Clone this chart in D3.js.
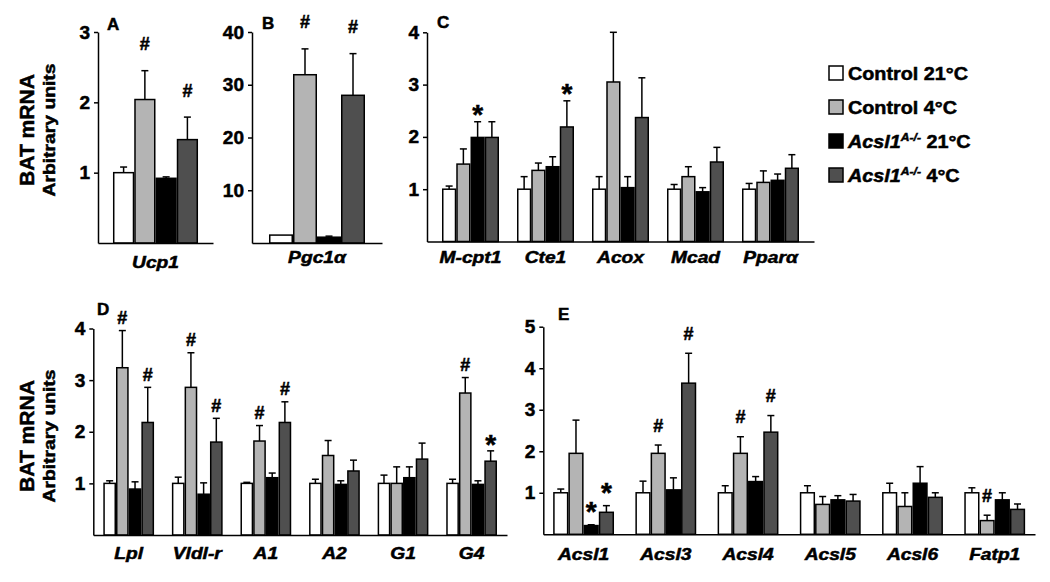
<!DOCTYPE html>
<html><head><meta charset="utf-8">
<script src="https://cdn.jsdelivr.net/npm/d3@7"></script>
<style>
body{margin:0;background:#fff}
svg text{font-family:"Liberation Sans",Arial,sans-serif;font-weight:bold;fill:#000;stroke:#000;stroke-width:0.5}
</style>
</head><body><svg id="c" width="1050" height="582"></svg>
<script>
// ---- series (legend) ----
const seriesGenotype = ["Control", "Control", "Acsl1", "Acsl1"];
const seriesSup = ["", "", "A-/-", "A-/-"];
const seriesTemp = ["21°C", "4°C", "21°C", "4°C"];
const seriesColors = ["#ffffff", "#b4b4b4", "#000000", "#4f4f4f"];

// ---- panel A ----
const catA = ["Ucp1"];
const meanA = [[1.00, 2.04, 0.92, 1.47]];
const semA = [[0.08, 0.41, 0.02, 0.32]];
const sigA = [["", "#", "", "#"]];
const ticksA = [1, 2, 3];

// ---- panel B ----
const catB = ["Pgc1α"];
const meanB = [[1.5, 31.9, 1.1, 28.0]];
const semB = [[0, 4.9, 0.2, 7.9]];
const sigB = [["", "#", "", "#"]];
const ticksB = [10, 20, 30, 40];

// ---- panel C ----
const catC = ["M-cpt1", "Cte1", "Acox", "Mcad", "Pparα"];
const meanC = [[1.00, 1.48, 1.99, 1.99], [1.00, 1.36, 1.43, 2.19], [1.00, 3.05, 1.03, 2.37], [1.00, 1.24, 0.95, 1.52], [1.00, 1.13, 1.17, 1.40]];
const semC = [[0.06, 0.29, 0.30, 0.30], [0.24, 0.14, 0.19, 0.50], [0.24, 0.95, 0.21, 0.76], [0.09, 0.19, 0.08, 0.28], [0.11, 0.22, 0.12, 0.26]];
const sigC = [["", "", "*", ""], ["", "", "", "*"], ["", "", "", ""], ["", "", "", ""], ["", "", "", ""]];
const ticksC = [1, 2, 3, 4];

// ---- panel D ----
const catD = ["Lpl", "Vldl-r", "A1", "A2", "G1", "G4"];
const meanD = [[1.00, 3.24, 0.89, 2.18], [1.00, 2.86, 0.79, 1.80], [1.00, 1.82, 1.11, 2.18], [1.00, 1.54, 0.98, 1.24], [1.00, 1.00, 1.11, 1.47], [1.00, 2.75, 0.98, 1.43]];
const semD = [[0.05, 0.72, 0.14, 0.68], [0.12, 0.67, 0.22, 0.46], [0.02, 0.30, 0.09, 0.40], [0.08, 0.29, 0.07, 0.21], [0.16, 0.32, 0.21, 0.31], [0.08, 0.30, 0.07, 0.20]];
const sigD = [["", "#", "", "#"], ["", "#", "", "#"], ["", "#", "", "#"], ["", "", "", ""], ["", "", "", ""], ["", "#", "", "*"]];
const ticksD = [1, 2, 3, 4];

// ---- panel E ----
const catE = ["Acsl1", "Acsl3", "Acsl4", "Acsl5", "Acsl6", "Fatp1"];
const meanE = [[1.00, 1.95, 0.21, 0.53], [1.00, 1.95, 1.07, 3.64], [1.00, 1.95, 1.27, 2.46], [1.00, 0.72, 0.83, 0.80], [1.00, 0.67, 1.23, 0.89], [1.00, 0.33, 0.83, 0.60]];
const semE = [[0.09, 0.80, 0.02, 0.16], [0.28, 0.20, 0.29, 0.72], [0.17, 0.40, 0.12, 0.40], [0.17, 0.19, 0.10, 0.16], [0.23, 0.33, 0.40, 0.11], [0.12, 0.13, 0.17, 0.13]];
const sigE = [["", "", "*", "*"], ["", "#", "", "#"], ["", "#", "", "#"], ["", "", "", ""], ["", "", "", ""], ["", "#", "", ""]];
const ticksE = [1, 2, 3, 4, 5];

const yTitle1 = "BAT mRNA";
const yTitle2 = "Arbitrary units";

// ---- layout ----
const panels = [
  {id: "A", cats: catA, mean: meanA, sem: semA, sig: sigA, ticks: ticksA, ymax: 3, x0: 98, x1: 213, y0: 243, y1: 32, pi: 0, po: 0.176, lx: 107, ly: 30, markOff: 27, catPad: 14},
  {id: "B", cats: catB, mean: meanB, sem: semB, sig: sigB, ticks: ticksB, ymax: 40, x0: 252, x1: 382, y0: 243, y1: 32, pi: 0, po: 0.177, lx: 262, ly: 29, markOff: 27, catPad: 9},
  {id: "C", cats: catC, mean: meanC, sem: semC, sig: sigC, ticks: ticksC, ymax: 4, x0: 427, x1: 814, y0: 241.5, y1: 32.3, pi: 0.24, po: 0.2, lx: 437, ly: 28, markOff: 14, catPad: 10},
  {id: "D", cats: catD, mean: meanD, sem: semD, sig: sigD, ticks: ticksD, ymax: 4, x0: 93.3, x1: 507, y0: 535, y1: 328.5, pi: 0.26, po: 0.146, lx: 97, ly: 315, markOff: 13, catPad: 13},
  {id: "E", cats: catE, mean: meanE, sem: semE, sig: sigE, ticks: ticksE, ymax: 5, x0: 543.3, x1: 1035, y0: 534.3, y1: 326.7, pi: 0.26, po: 0.12, lx: 558, ly: 320, markOff: 20, catPad: 14}
];

const svg = d3.select("#c");

panels.forEach(p => {
  const g = svg.append("g");
  const x = d3.scaleBand().domain(p.cats).range([p.x0, p.x1]).paddingInner(p.pi).paddingOuter(p.po);
  const y = d3.scaleLinear().domain([0, p.ymax]).range([p.y0, p.y1]);
  const inner = d3.scaleBand().domain(d3.range(4)).range([0, x.bandwidth()]);

  // y axis
  const ya = g.append("g").attr("transform", `translate(${p.x0},0)`)
    .call(d3.axisLeft(y).tickValues(p.ticks).tickFormat(d3.format("d")).tickSize(4).tickPadding(4).tickSizeOuter(0));
  ya.select(".domain").attr("stroke", "#000").attr("stroke-width", 1.5);
  ya.selectAll(".tick line").attr("stroke", "#000").attr("stroke-width", 1.5);
  ya.selectAll(".tick text").style("font-size", "19px").attr("font-family", null);

  // bars
  p.cats.forEach((c, i) => {
    const gx = x(c);
    p.mean[i].forEach((m, s) => {
      const bx = gx + inner(s);
      const bw = inner.bandwidth();
      const top = m + p.sem[i][s];
      if (p.sem[i][s] > 0) {
        const cx = bx + bw / 2;
        g.append("line").attr("x1", cx).attr("x2", cx).attr("y1", y(m)).attr("y2", y(top))
          .attr("stroke", "#000").attr("stroke-width", 1.5);
        g.append("line").attr("x1", cx - 3.5).attr("x2", cx + 3.5).attr("y1", y(top)).attr("y2", y(top))
          .attr("stroke", "#000").attr("stroke-width", 1.5);
      }
      g.append("rect").attr("x", bx + 0.75).attr("width", bw - 1.5)
        .attr("y", y(m)).attr("height", y(0) - y(m))
        .attr("fill", seriesColors[s]).attr("stroke", "#000").attr("stroke-width", 1.5);
      const sg = p.sig[i][s];
      if (sg) {
        const cy = y(top) - p.markOff;
        const isStar = sg === "*";
        g.append("text").attr("x", bx + bw / 2).attr("y", cy + (isStar ? 16 : 6.5))
          .attr("text-anchor", "middle").style("font-size", isStar ? "28px" : "18px").text(sg);
      }
    });
  });

  // x axis
  const xa = g.append("g").attr("transform", `translate(0,${p.y0})`)
    .call(d3.axisBottom(x).tickSize(0).tickSizeOuter(0).tickPadding(p.catPad));
  xa.select(".domain").attr("stroke", "#000").attr("stroke-width", 1.5);
  xa.selectAll(".tick text").attr("font-family", null)
    .style("font-size", "16px").style("font-style", "italic")
    .attr("transform", "scale(1.2,1)");

  // panel letter
  g.append("text").attr("x", p.lx).attr("y", p.ly).style("font-size", "17px").text(p.id);
});

// y titles
[{cy: 130}, {cy: 436}].forEach(t => {
  svg.append("text").attr("transform", `translate(34,${t.cy}) rotate(-90)`)
    .attr("text-anchor", "middle").style("font-size", "20px")
    .attr("textLength", 112).attr("lengthAdjust", "spacingAndGlyphs").text(yTitle1);
  svg.append("text").attr("transform", `translate(55,${t.cy}) rotate(-90)`)
    .attr("text-anchor", "middle").style("font-size", "17px")
    .attr("textLength", 133).attr("lengthAdjust", "spacingAndGlyphs").text(yTitle2);
});

// legend
const lg = svg.append("g");
seriesGenotype.forEach((gname, i) => {
  const cy = 73 + i * 34;
  lg.append("rect").attr("x", 829).attr("y", cy - 7).attr("width", 14).attr("height", 14)
    .attr("fill", seriesColors[i]).attr("stroke", "#000").attr("stroke-width", 1.5);
  const t = lg.append("text").attr("transform", `translate(848,${cy + 6.5}) scale(1.1,1)`).style("font-size", "18px");
  if (seriesSup[i]) {
    t.append("tspan").style("font-style", "italic").text(gname);
    t.append("tspan").attr("dy", -7).style("font-size", "11px").style("font-style", "italic").text(seriesSup[i]);
    t.append("tspan").attr("dy", 7).text(" " + seriesTemp[i]);
  } else {
    t.append("tspan").text(gname + " " + seriesTemp[i]);
  }
});
</script>
</body></html>
